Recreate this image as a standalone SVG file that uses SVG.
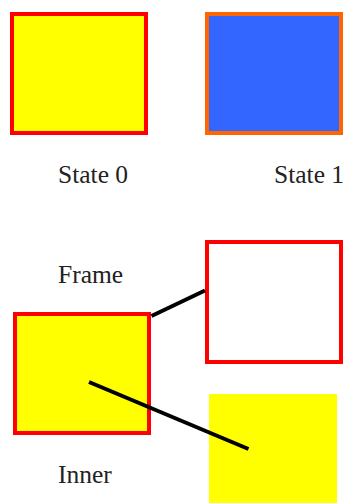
<svg xmlns="http://www.w3.org/2000/svg" width="347" height="503" viewBox="0 0 347 503">
<style>
text { font-family: "Liberation Serif", "Times New Roman", serif; font-size: 25.5px; fill: #222; }
.red { stroke: #FF0000; stroke-width: 4; }
.conn line { stroke: #000; stroke-width: 4; }
</style>
<rect width="347" height="503" fill="#fff"/>
<g id="state0">
<rect class="red" x="12" y="14" width="134" height="119" fill="#FFFF00"/>
<text x="58" y="183">State 0</text>
</g>
<g id="state1">
<rect x="207" y="14" width="134" height="119" fill="#3366FF" stroke="#FF6600" stroke-width="4"/>
<text x="274" y="183">State 1</text>
</g>
<g id="frame">
<text x="58" y="283">Frame</text>
<rect class="red" x="15" y="314" width="134" height="119" fill="#FFFF00"/>
</g>
<g id="frameBox">
<rect class="red" x="207" y="242" width="134" height="120" fill="#fff"/>
</g>
<g id="innerBox">
<rect x="209" y="394" width="128" height="109" fill="#FFFF00"/>
</g>
<g id="inner">
<text x="58" y="483">Inner</text>
</g>
<g class="conn" id="connectors">
<line x1="151.5" y1="316" x2="205" y2="290.5"/>
<line x1="89" y1="382" x2="248.5" y2="449"/>
</g>
</svg>
